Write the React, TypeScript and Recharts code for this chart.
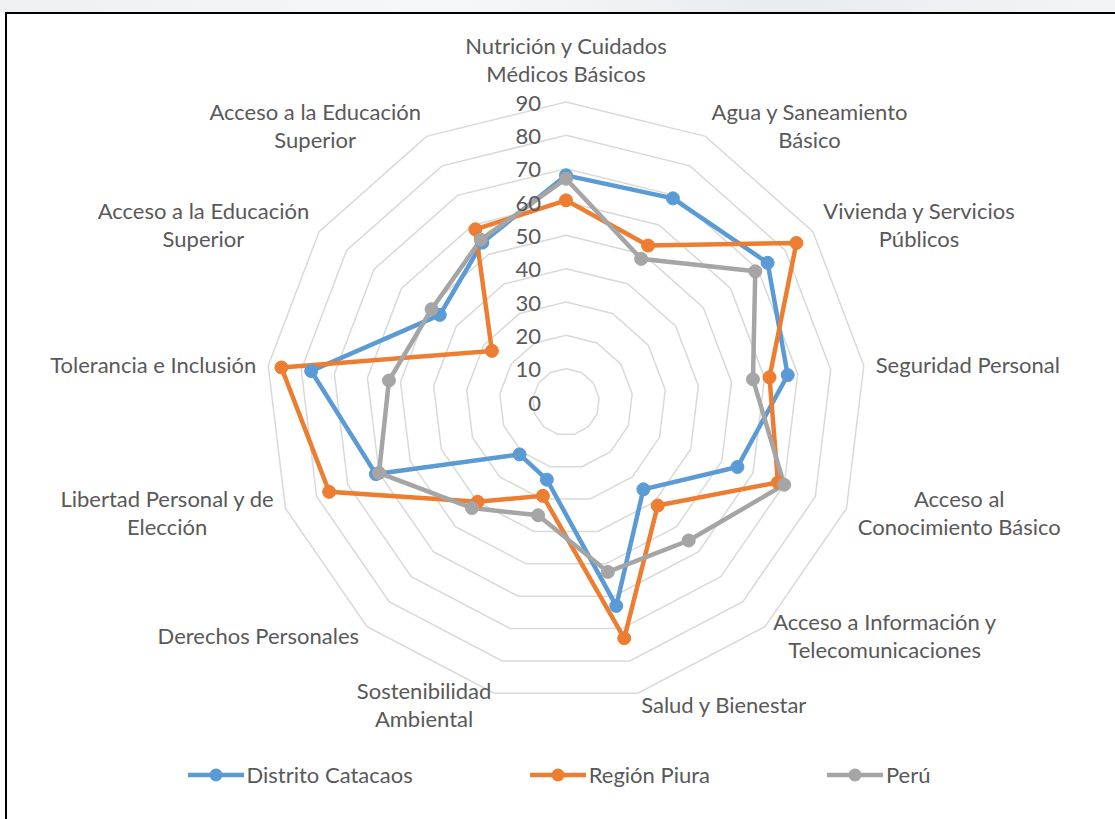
import {
  RadarChart,
  Radar,
  PolarGrid,
  PolarAngleAxis,
  PolarRadiusAxis,
} from "recharts";

const categories = [
  "Nutrición y Cuidados\nMédicos Básicos",
  "Agua y Saneamiento\nBásico",
  "Vivienda y Servicios\nPúblicos",
  "Seguridad Personal",
  "Acceso al\nConocimiento Básico",
  "Acceso a Información y\nTelecomunicaciones",
  "Salud y Bienestar",
  "Sostenibilidad\nAmbiental",
  "Derechos Personales",
  "Libertad Personal y de\nElección",
  "Tolerancia e Inclusión",
  "Acceso a la Educación\nSuperior",
  "Acceso a la Educación\nSuperior",
];

const catacaos = [68, 69, 73.5, 67, 55, 35, 63, 24, 21, 61, 77, 46, 54];
const piura = [60.5, 53, 84, 61.5, 68, 41.5, 73, 29, 40, 76, 86, 27, 58.5];
const peru = [67, 48.5, 69, 56.5, 70, 55.5, 52.5, 35, 42.5, 60, 53.5, 49, 55];

const radiusTicks = [0, 10, 20, 30, 40, 50, 60, 70, 80, 90];

const series = [
  { key: "catacaos", name: "Distrito Catacaos", color: "#5B9BD5" },
  { key: "piura", name: "Región Piura", color: "#ED7D31" },
  { key: "peru", name: "Perú", color: "#A5A5A5" },
];

// the category names repeat, so the angle axis is keyed by index
const data = categories.map((name, i) => ({
  idx: String(i),
  name,
  catacaos: catacaos[i],
  piura: piura[i],
  peru: peru[i],
}));

const CX = 566;
const CY = 402;
const R = 300;
const FONT = "Lato, 'Open Sans', sans-serif";
const FONT_SIZE = 22;
const LINE_H = 28;
const TEXT = "#595959";

let measureCtx: CanvasRenderingContext2D | null = null;
function textWidth(s: string) {
  if (!measureCtx) {
    measureCtx = document.createElement("canvas").getContext("2d");
  }
  if (!measureCtx) return s.length * FONT_SIZE * 0.5;
  measureCtx.font = `${FONT_SIZE}px ${FONT}`;
  return measureCtx.measureText(s).width;
}

function AngleTick(props: any) {
  const { x, y, payload } = props;
  const dx = x - CX;
  const dy = y - CY;
  const len = Math.sqrt(dx * dx + dy * dy) || 1;
  const ux = dx / len;
  const uy = dy / len;
  const px = CX + (R + 12) * ux;
  const py = CY + (R + 12) * uy;
  const label = categories[Number(payload.value)] ?? "";
  const lines = label.split("\n");
  const w = Math.max(...lines.map(textWidth));
  const h = lines.length * LINE_H;
  let boxCx = px;
  let centerY = py;
  if (Math.abs(ux) < 0.05) {
    centerY = py + uy * (h / 2 + 3);
  } else {
    boxCx = ux > 0 ? px + w / 2 : px - w / 2;
  }
  const firstY = centerY - ((lines.length - 1) * LINE_H) / 2;
  return (
    <text
      x={boxCx}
      y={firstY}
      textAnchor="middle"
      fill={TEXT}
      fontFamily={FONT}
      fontSize={FONT_SIZE}
    >
      {lines.map((l, i) => (
        <tspan key={i} x={boxCx} y={firstY + i * LINE_H} dominantBaseline="central">
          {l}
        </tspan>
      ))}
    </text>
  );
}

function RadiusTick(props: any) {
  const { x, y, payload } = props;
  return (
    <text
      x={x - 25}
      y={y}
      textAnchor="end"
      dominantBaseline="central"
      fill={TEXT}
      fontFamily={FONT}
      fontSize={FONT_SIZE}
    >
      {payload.value}
    </text>
  );
}

function ChartLegend() {
  return (
    <div
      style={{
        position: "absolute",
        top: 761,
        left: 0,
        width: 1118,
        display: "flex",
        justifyContent: "center",
        gap: 117,
        fontFamily: FONT,
        fontSize: FONT_SIZE,
        color: TEXT,
      }}
    >
      {series.map((s) => (
        <div key={s.key} style={{ display: "flex", alignItems: "center" }}>
          <svg width={56} height={26}>
            <line x1={0} y1={13} x2={56} y2={13} stroke={s.color} strokeWidth={4.5} />
            <circle cx={28} cy={13} r={6.5} fill={s.color} />
          </svg>
          <span style={{ marginLeft: 3 }}>{s.name}</span>
        </div>
      ))}
    </div>
  );
}

export default function App() {
  return (
    <div
      style={{
        position: "absolute",
        left: 0,
        top: 0,
        width: 1115,
        height: 819,
        overflow: "hidden",
        background: "#fff",
      }}
    >
      <div
        style={{
          position: "absolute",
          left: 0,
          top: 0,
          width: 1115,
          height: 12,
          background: "linear-gradient(90deg, #eef0f2, #f6f7f8 40%, #e9ecef 70%, #f3f4f6)",
        }}
      />
      <div
        style={{
          position: "absolute",
          left: 5,
          top: 12,
          width: 1120,
          height: 820,
          border: "2px solid #000",
          boxSizing: "border-box",
        }}
      />
      <div style={{ position: "absolute", left: 0, top: 0 }}>
        <RadarChart
          width={1115}
          height={819}
          cx={CX}
          cy={CY}
          outerRadius={R}
          data={data}
          margin={{ top: 0, right: 0, bottom: 0, left: 0 }}
        >
          <PolarGrid
            gridType="polygon"
            radialLines={false}
            stroke="#D9D9D9"
            strokeWidth={1.5}
          />
          <PolarAngleAxis
            dataKey="idx"
            type="category"
            tick={<AngleTick />}
            axisLine={false}
            tickLine={false}
          />
          <PolarRadiusAxis
            angle={90}
            domain={[0, 90]}
            ticks={radiusTicks}
            tickCount={10}
            axisLine={false}
            tick={<RadiusTick />}
          />
          {series.map((s) => (
            <Radar
              key={s.key}
              dataKey={s.key}
              name={s.name}
              stroke={s.color}
              strokeWidth={4.5}
              fill="none"
              fillOpacity={0}
              dot={{ r: 6.5, fill: s.color, stroke: s.color, strokeWidth: 1, fillOpacity: 1 }}
              isAnimationActive={false}
            />
          ))}
        </RadarChart>
      </div>
      <ChartLegend />
    </div>
  );
}
